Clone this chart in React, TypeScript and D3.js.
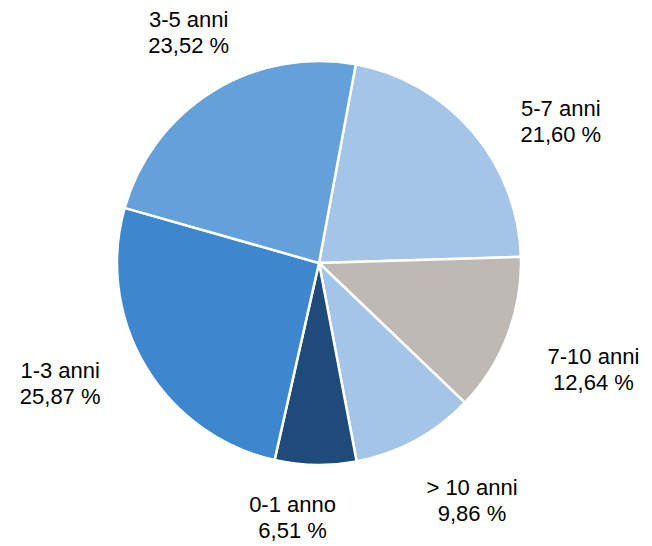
import React from "react";
import * as d3 from "d3";

const categories = ["5-7 anni", "7-10 anni", "> 10 anni", "0-1 anno", "1-3 anni", "3-5 anni"];
const values = [21.6, 12.64, 9.86, 6.51, 25.87, 23.52];
const valueLabels = ["21,60 %", "12,64 %", "9,86 %", "6,51 %", "25,87 %", "23,52 %"];
const colors = ["#A4C4E8", "#BEB9B5", "#A4C4E8", "#1F4B7A", "#3E86CE", "#64A0DA"];
// label placement: [angle tweak (deg), radius]
const labelPlacement: [number, number][] = [
  [10, 281],
  [0, 294],
  [-4.5, 281],
  [5, 254],
  [6, 285],
  [2.5, 266],
];

const W = 652;
const H = 546;
const cx = 319;
const cy = 263;
const R = 202;

export default function App() {
  const pie = d3
    .pie<number>()
    .sort(null)
    .value((d) => d)
    .startAngle((10.5 * Math.PI) / 180)
    .endAngle((10.5 * Math.PI) / 180 + 2 * Math.PI);
  const arcs = pie(values);
  const arc = d3.arc<d3.PieArcDatum<number>>().innerRadius(0).outerRadius(R);

  return (
    <svg
      width={W}
      height={H}
      style={{ position: "absolute", left: 0, top: 0, background: "#fff" }}
    >
      <g transform={`translate(${cx},${cy})`}>
        {arcs.map((a, i) => (
          <path key={i} d={arc(a) || ""} fill={colors[i]} stroke="#fff" strokeWidth={2.5} strokeLinejoin="round" />
        ))}
        {arcs.map((a, i) => {
          const mid = (a.startAngle + a.endAngle) / 2 + (labelPlacement[i][0] * Math.PI) / 180;
          const r = labelPlacement[i][1];
          const x = r * Math.sin(mid);
          const y = -r * Math.cos(mid);
          return (
            <text
              key={"t" + i}
              x={x}
              y={y}
              textAnchor="middle"
              fontFamily="Liberation Sans, Arial, sans-serif"
              fontSize={22}
              fill="#000"
            >
              <tspan x={x} dy={-4}>{categories[i]}</tspan>
              <tspan x={x} dy={26}>{valueLabels[i]}</tspan>
            </text>
          );
        })}
      </g>
    </svg>
  );
}
